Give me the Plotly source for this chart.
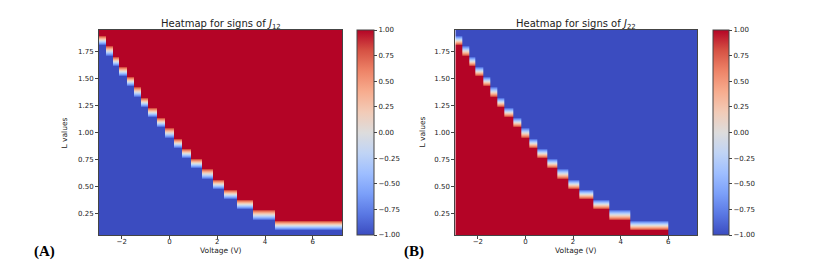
import numpy as np
import plotly.graph_objects as go

# ---- data ----
# L rows (bottom -> top), 20 rows covering 0.05 .. 1.95
L_values = [0.0975, 0.1925, 0.2875, 0.3825, 0.4775, 0.5725, 0.6675, 0.7625,
            0.8575, 0.9525, 1.0475, 1.1425, 1.2375, 1.3325, 1.4275, 1.5225,
            1.6175, 1.7125, 1.8075, 1.9025]

# voltage axis sampling
V_start, V_stop, V_step = -2.95, 7.22, 0.01

# voltage at which the sign flips in each L row (bottom -> top)
# J12: positive (+1) for V above the value
J12_sign_change_V = [np.inf, 4.40, 3.50, 2.82, 2.26, 1.80, 1.34, 0.89, 0.50, 0.16,
                     -0.19, -0.53, -0.89, -1.20, -1.50, -1.78, -2.11, -2.36, -2.66, -3.00]
# J22: positive (+1) for V below the value
J22_sign_change_V = [6.00, 4.40, 3.50, 2.82, 2.26, 1.80, 1.34, 0.89, 0.50, 0.16,
                     -0.19, -0.53, -0.89, -1.20, -1.50, -1.78, -2.11, -2.36, -2.66, -3.00]

x_ticks = [-2, 0, 2, 4, 6]
y_ticks = [0.25, 0.50, 0.75, 1.00, 1.25, 1.50, 1.75]
cbar_ticks = [-1.00, -0.75, -0.50, -0.25, 0.00, 0.25, 0.50, 0.75, 1.00]

titles = ["Heatmap for signs of <i>J</i><sub>12</sub>",
          "Heatmap for signs of <i>J</i><sub>22</sub>"]
x_title = "Voltage (V)"
y_title = "L values"
panel_labels = ["(A)", "(B)"]

# matplotlib "coolwarm"
coolwarm = [
    [0.0, "#3b4cc0"], [0.1, "#5977e3"], [0.2, "#7b9ff9"], [0.3, "#9ebeff"],
    [0.4, "#c0d4f5"], [0.5, "#dddcdc"], [0.6, "#f2cbb7"], [0.7, "#f7ac8e"],
    [0.8, "#ee8468"], [0.9, "#d65244"], [1.0, "#b40426"],
]

V = np.arange(V_start, V_stop + V_step / 2, V_step)
T12 = np.array(J12_sign_change_V)[:, None]
T22 = np.array(J22_sign_change_V)[:, None]
z12 = np.where(V[None, :] > T12, 1.0, -1.0)
z22 = np.where(V[None, :] < T22, 1.0, -1.0)

W, H = 817, 264
def px(x):
    return x / W
def py(y):
    return 1 - y / H

plots = [
    dict(x0=99, x1=342, cb_x=356.7, cb_w=16.6, ylab_x=64, panel_x=44),
    dict(x0=455.3, x1=697.3, cb_x=712.7, cb_w=15.8, ylab_x=422, panel_x=414),
]
top, bottom = 30, 235

axis_col = "#444"
font_col = "#222"

fig = go.Figure()
for i, (z, p) in enumerate(zip([z12, z22], plots)):
    fig.add_trace(go.Heatmap(
        x=V, y=L_values, z=z, zmin=-1, zmax=1, colorscale=coolwarm,
        zsmooth="best", xaxis="x" if i == 0 else "x2", yaxis="y" if i == 0 else "y2",
        hoverinfo="skip",
        colorbar=dict(
            x=px(p["cb_x"]), xanchor="left", xref="paper",
            y=py((top + bottom) / 2), yanchor="middle",
            len=(bottom - top) / H, lenmode="fraction",
            thickness=p["cb_w"], thicknessmode="pixels",
            xpad=0, ypad=0, outlinewidth=1, outlinecolor=axis_col,
            tickvals=cbar_ticks, tickformat=".2f", ticks="outside", ticklen=3,
            tickwidth=1, tickcolor=axis_col,
            tickfont=dict(family="DejaVu Sans", size=7, color=font_col),
        ),
    ))

common_x = dict(range=[V_start, V_stop], tickvals=x_ticks, ticks="outside", ticklen=3,
                tickwidth=1, tickcolor=axis_col, showline=True, linecolor=axis_col,
                linewidth=1, mirror=True, showgrid=False, zeroline=False,
                ticklabelstandoff=-3,
                tickfont=dict(family="DejaVu Sans", size=7, color=font_col))
common_y = dict(range=[0.05, 1.95], tickvals=y_ticks, tickformat=".2f", ticks="outside",
                ticklen=3, tickwidth=1, tickcolor=axis_col, showline=True,
                linecolor=axis_col, linewidth=1, mirror=True, showgrid=False,
                zeroline=False, tickfont=dict(family="DejaVu Sans", size=7, color=font_col))

fig.update_layout(
    width=W, height=H, margin=dict(l=0, r=0, t=0, b=0, autoexpand=False),
    paper_bgcolor="white", plot_bgcolor="white",
    font=dict(family="DejaVu Sans", size=7, color=font_col),
    xaxis=dict(domain=[px(plots[0]["x0"]), px(plots[0]["x1"])], anchor="y", **common_x),
    yaxis=dict(domain=[py(bottom), py(top)], anchor="x", **common_y),
    xaxis2=dict(domain=[px(plots[1]["x0"]), px(plots[1]["x1"])], anchor="y2", **common_x),
    yaxis2=dict(domain=[py(bottom), py(top)], anchor="x2", **common_y),
)

ann = []
for i, p in enumerate(plots):
    cx = px((p["x0"] + p["x1"]) / 2)
    ann.append(dict(text=titles[i], x=cx, y=py(24.5), xref="paper", yref="paper",
                    xanchor="center", yanchor="middle", showarrow=False,
                    font=dict(family="DejaVu Sans", size=10, color=font_col)))
    ann.append(dict(text=x_title, x=cx, y=py(250), xref="paper", yref="paper",
                    xanchor="center", yanchor="middle", showarrow=False,
                    font=dict(family="DejaVu Sans", size=7.5, color=font_col)))
    ann.append(dict(text=y_title, x=px(p["ylab_x"]), y=py((top + bottom) / 2),
                    xref="paper", yref="paper", xanchor="center", yanchor="middle",
                    textangle=-90, showarrow=False,
                    font=dict(family="DejaVu Sans", size=7.5, color=font_col)))
    ann.append(dict(text="<b>" + panel_labels[i] + "</b>", x=px(p["panel_x"]), y=py(251),
                    xref="paper", yref="paper", xanchor="center", yanchor="middle",
                    showarrow=False,
                    font=dict(family="Liberation Serif", size=15, color="black")))
fig.update_layout(annotations=ann)

fig.write_html("out.html", config={"displayModeBar": False},
               post_script="document.body.style.margin='0';document.body.style.overflow='hidden';")
